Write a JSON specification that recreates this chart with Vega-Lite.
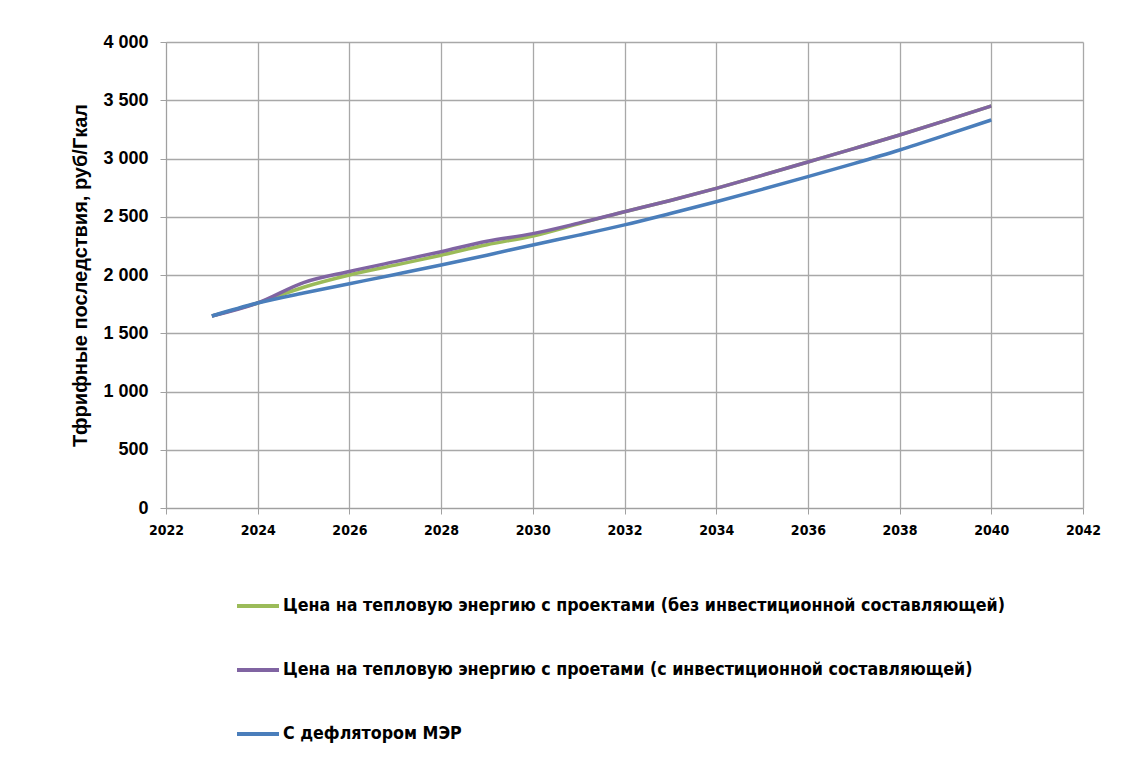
{
  "$schema": "https://vega.github.io/schema/vega-lite/v6.json",
  "autosize": "none",
  "width": 917,
  "height": 466,
  "padding": {"left": 166, "top": 42, "right": 44, "bottom": 250},
  "background": "white",
  "data": {
    "values": [
      {"year": 2023, "series": "Цена на тепловую энергию  с проектами (без инвестиционной составляющей)", "value": 1648},
      {"year": 2024, "series": "Цена на тепловую энергию  с проектами (без инвестиционной составляющей)", "value": 1760},
      {"year": 2025, "series": "Цена на тепловую энергию  с проектами (без инвестиционной составляющей)", "value": 1895},
      {"year": 2026, "series": "Цена на тепловую энергию  с проектами (без инвестиционной составляющей)", "value": 2000},
      {"year": 2027, "series": "Цена на тепловую энергию  с проектами (без инвестиционной составляющей)", "value": 2085},
      {"year": 2028, "series": "Цена на тепловую энергию  с проектами (без инвестиционной составляющей)", "value": 2170},
      {"year": 2029, "series": "Цена на тепловую энергию  с проектами (без инвестиционной составляющей)", "value": 2260},
      {"year": 2030, "series": "Цена на тепловую энергию  с проектами (без инвестиционной составляющей)", "value": 2335},
      {"year": 2031, "series": "Цена на тепловую энергию  с проектами (без инвестиционной составляющей)", "value": 2440},
      {"year": 2032, "series": "Цена на тепловую энергию  с проектами (без инвестиционной составляющей)", "value": 2543},
      {"year": 2033, "series": "Цена на тепловую энергию  с проектами (без инвестиционной составляющей)", "value": 2640},
      {"year": 2034, "series": "Цена на тепловую энергию  с проектами (без инвестиционной составляющей)", "value": 2744},
      {"year": 2035, "series": "Цена на тепловую энергию  с проектами (без инвестиционной составляющей)", "value": 2855},
      {"year": 2036, "series": "Цена на тепловую энергию  с проектами (без инвестиционной составляющей)", "value": 2970},
      {"year": 2037, "series": "Цена на тепловую энергию  с проектами (без инвестиционной составляющей)", "value": 3085},
      {"year": 2038, "series": "Цена на тепловую энергию  с проектами (без инвестиционной составляющей)", "value": 3202},
      {"year": 2039, "series": "Цена на тепловую энергию  с проектами (без инвестиционной составляющей)", "value": 3325},
      {"year": 2040, "series": "Цена на тепловую энергию  с проектами (без инвестиционной составляющей)", "value": 3451},
      {"year": 2023, "series": "Цена на тепловую энергию с проетами (с инвестиционной составляющей)", "value": 1648},
      {"year": 2024, "series": "Цена на тепловую энергию с проетами (с инвестиционной составляющей)", "value": 1760},
      {"year": 2025, "series": "Цена на тепловую энергию с проетами (с инвестиционной составляющей)", "value": 1935},
      {"year": 2026, "series": "Цена на тепловую энергию с проетами (с инвестиционной составляющей)", "value": 2030},
      {"year": 2027, "series": "Цена на тепловую энергию с проетами (с инвестиционной составляющей)", "value": 2115},
      {"year": 2028, "series": "Цена на тепловую энергию с проетами (с инвестиционной составляющей)", "value": 2200},
      {"year": 2029, "series": "Цена на тепловую энергию с проетами (с инвестиционной составляющей)", "value": 2290},
      {"year": 2030, "series": "Цена на тепловую энергию с проетами (с инвестиционной составляющей)", "value": 2355},
      {"year": 2031, "series": "Цена на тепловую энергию с проетами (с инвестиционной составляющей)", "value": 2445},
      {"year": 2032, "series": "Цена на тепловую энергию с проетами (с инвестиционной составляющей)", "value": 2543},
      {"year": 2033, "series": "Цена на тепловую энергию с проетами (с инвестиционной составляющей)", "value": 2640},
      {"year": 2034, "series": "Цена на тепловую энергию с проетами (с инвестиционной составляющей)", "value": 2744},
      {"year": 2035, "series": "Цена на тепловую энергию с проетами (с инвестиционной составляющей)", "value": 2855},
      {"year": 2036, "series": "Цена на тепловую энергию с проетами (с инвестиционной составляющей)", "value": 2970},
      {"year": 2037, "series": "Цена на тепловую энергию с проетами (с инвестиционной составляющей)", "value": 3085},
      {"year": 2038, "series": "Цена на тепловую энергию с проетами (с инвестиционной составляющей)", "value": 3202},
      {"year": 2039, "series": "Цена на тепловую энергию с проетами (с инвестиционной составляющей)", "value": 3325},
      {"year": 2040, "series": "Цена на тепловую энергию с проетами (с инвестиционной составляющей)", "value": 3451},
      {"year": 2023, "series": "С дефлятором МЭР", "value": 1648},
      {"year": 2024, "series": "С дефлятором МЭР", "value": 1760},
      {"year": 2025, "series": "С дефлятором МЭР", "value": 1845},
      {"year": 2026, "series": "С дефлятором МЭР", "value": 1925},
      {"year": 2027, "series": "С дефлятором МЭР", "value": 2005},
      {"year": 2028, "series": "С дефлятором МЭР", "value": 2086},
      {"year": 2029, "series": "С дефлятором МЭР", "value": 2170},
      {"year": 2030, "series": "С дефлятором МЭР", "value": 2258},
      {"year": 2031, "series": "С дефлятором МЭР", "value": 2342},
      {"year": 2032, "series": "С дефлятором МЭР", "value": 2430},
      {"year": 2033, "series": "С дефлятором МЭР", "value": 2528},
      {"year": 2034, "series": "С дефлятором МЭР", "value": 2629},
      {"year": 2035, "series": "С дефлятором МЭР", "value": 2735},
      {"year": 2036, "series": "С дефлятором МЭР", "value": 2844},
      {"year": 2037, "series": "С дефлятором МЭР", "value": 2956},
      {"year": 2038, "series": "С дефлятором МЭР", "value": 3073},
      {"year": 2039, "series": "С дефлятором МЭР", "value": 3200},
      {"year": 2040, "series": "С дефлятором МЭР", "value": 3331}
    ]
  },
  "mark": {"type": "line", "interpolate": "monotone", "strokeWidth": 3.5},
  "encoding": {
    "x": {
      "field": "year",
      "type": "quantitative",
      "scale": {"domain": [2022, 2042], "nice": false, "zero": false},
      "axis": {
        "title": null,
        "values": [2022, 2024, 2026, 2028, 2030, 2032, 2034, 2036, 2038, 2040, 2042],
        "format": "d",
        "labelFont": "DejaVu Sans Condensed, Liberation Sans",
        "labelFontWeight": "bold",
        "labelFontSize": 14,
        "labelColor": "#000000",
        "labelPadding": 9,
        "tickSize": 6,
        "tickColor": "#a0a0a0",
        "domainColor": "#a0a0a0",
        "gridColor": "#a8a8a8",
        "gridWidth": 1.3,
        "labelFlush": false
      }
    },
    "y": {
      "field": "value",
      "type": "quantitative",
      "scale": {"domain": [0, 4000], "nice": false},
      "axis": {
        "title": "Тфрифные последствия, руб/Гкал",
        "titleFont": "Liberation Sans",
        "titleFontWeight": "bold",
        "titleFontSize": 20,
        "titleColor": "#000000",
        "titlePadding": 12,
        "values": [0, 500, 1000, 1500, 2000, 2500, 3000, 3500, 4000],
        "labelExpr": "replace(format(datum.value, ','), ',', ' ')",
        "labelFont": "Liberation Sans",
        "labelFontWeight": "bold",
        "labelFontSize": 18,
        "labelColor": "#000000",
        "labelPadding": 12,
        "tickSize": 6,
        "tickColor": "#a0a0a0",
        "domainColor": "#a0a0a0",
        "gridColor": "#a8a8a8",
        "gridWidth": 1.3
      }
    },
    "color": {
      "field": "series",
      "type": "nominal",
      "sort": null,
      "scale": {
        "domain": [
          "Цена на тепловую энергию  с проектами (без инвестиционной составляющей)",
          "Цена на тепловую энергию с проетами (с инвестиционной составляющей)",
          "С дефлятором МЭР"
        ],
        "range": ["#9BBB59", "#8064A2", "#4A7EBB"]
      },
      "legend": {
        "title": null,
        "orient": "none",
        "legendX": 69,
        "legendY": 541,
        "direction": "vertical",
        "symbolType": "stroke",
        "symbolSize": 1764,
        "symbolStrokeWidth": 4,
        "rowPadding": 32,
        "labelOffset": 2,
        "labelFont": "DejaVu Sans Condensed, Liberation Sans",
        "labelFontWeight": "bold",
        "labelFontSize": 17.7,
        "labelColor": "#000000",
        "labelLimit": 1000
      }
    }
  },
  "config": {
    "view": {"stroke": null},
    "axis": {"gridOpacity": 1}
  }
}
